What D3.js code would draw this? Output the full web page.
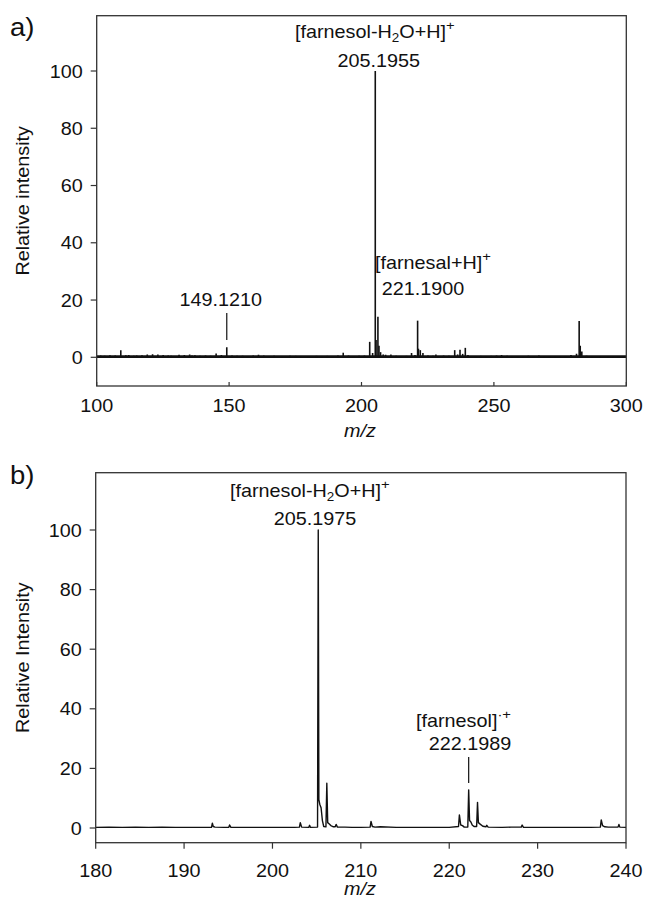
<!DOCTYPE html>
<html><head><meta charset="utf-8">
<script src="https://cdn.jsdelivr.net/npm/d3@7"></script>
<style>
body{margin:0;background:#fff}
svg{display:block}
text{font-family:"Liberation Sans",Arial,Helvetica,sans-serif;fill:#111}
</style>
</head><body>
<svg id="c" width="646" height="908"></svg>
<script>
// ---------- data ----------
const xTicksA = [100, 150, 200, 250, 300];
const xTicksB = [180, 190, 200, 210, 220, 230, 240];
const yTicks = [0, 20, 40, 60, 80, 100];

// panel a: centroid (stick) spectrum, m/z and relative intensity
const peaksAmz = [101.5,103,105,107,109.1,111,112.1,114,115.1,117.1,119.1,121.1,123.1,125.1,127,128.1,131.1,133.1,135.1,136,137.1,139,141.1,143,145.1,147.1,149.12,151.1,153,155.1,157,159.1,161.1,163.1,165,167,170,173,175.1,177,180,183,185,187.1,189,191.1,193.1,195.1,197,199.1,201.1,203.1,204.2,205.2,205.5,206.2,206.6,207.2,208.2,209.1,211.1,213.1,215,217,218.9,220.2,221.19,221.5,222.2,223.2,225.1,227,228.1,229,231,233,235.2,236.3,237.2,238.2,239.2,240.2,243,245,247,249,251,252.9,255,257,259,261,263,265,267,269,271,273,275,277,279.1,281.2,282.2,282.6,283.2,285,287,290,293,295,297,299];
const peaksAint = [0.6,0.5,0.7,0.6,2.5,0.7,0.8,0.5,0.6,0.7,1.0,1.1,1.0,0.8,0.6,0.5,0.9,0.8,1.0,0.6,0.7,0.5,0.6,0.5,1.3,0.8,3.5,0.6,0.5,0.5,0.4,0.6,0.9,0.6,0.4,0.5,0.4,0.5,0.5,0.4,0.4,0.5,0.4,0.5,0.4,0.6,1.6,0.6,0.4,0.5,0.6,5.4,1.5,100,6.0,14.2,4.0,1.8,1.0,0.9,1.0,0.5,0.4,0.5,1.5,0.8,12.8,3.0,2.5,1.5,0.6,0.5,1.0,0.4,0.6,0.5,2.5,1.0,2.6,1.2,3.3,0.8,0.4,0.5,0.4,0.5,0.6,0.8,0.5,0.4,0.4,0.4,0.5,0.4,0.6,0.4,0.4,0.4,0.4,0.4,0.8,1.2,12.7,4.0,2.0,0.5,0.4,0.4,0.3,0.3,0.3,0.4];

// panel b: profile spectrum, m/z and relative intensity
const profBmz = [180.0,181.5,183.0,184.5,186.0,187.5,189.0,190.5,192.0,193.1,193.2,193.3,193.5,194.5,195.05,195.15,195.3,197.0,199.0,201.0,202.5,203.05,203.15,203.3,204.1,204.2,204.3,205.1,205.18,205.25,205.35,205.5,205.65,205.8,206.05,206.15,206.25,206.4,206.6,206.9,207.1,207.2,207.35,208.2,209.0,210.0,211.05,211.15,211.3,211.6,212.2,214.0,216.0,218.0,220.0,221.05,221.15,221.3,221.5,221.7,222.1,222.2,222.3,222.45,222.6,222.8,223.1,223.2,223.3,223.5,223.8,224.15,224.25,224.4,226.0,227.0,228.15,228.25,228.4,230.0,232.0,234.0,236.0,237.1,237.2,237.35,237.6,238.0,239.1,239.2,239.3,240.0];
const profBint = [0.2,0.3,0.2,0.3,0.2,0.3,0.2,0.2,0.2,0.2,1.6,0.5,0.3,0.2,0.2,1.0,0.2,0.2,0.2,0.2,0.2,0.3,1.8,0.3,0.2,0.9,0.2,0.3,100,9.5,8.0,6.8,2.5,0.5,0.4,15,1.8,1.4,0.8,0.4,0.4,1.2,0.3,0.3,0.2,0.2,0.3,2.2,0.5,0.3,0.4,0.2,0.2,0.2,0.2,0.5,4.4,1.0,0.8,0.3,0.3,12.8,2.5,2.0,1.0,0.5,0.5,8.6,1.8,1.3,0.6,0.4,0.9,0.3,0.2,0.3,0.3,1.0,0.2,0.2,0.2,0.2,0.2,0.3,2.7,0.8,0.4,0.3,0.3,1.2,0.3,0.2];

// ---------- drawing ----------
const svg = d3.select("#c");
const SX = 1.1;
const INK = "#111";

function txt(x, y, parts, o = {}) {
  const size = o.size || 18;
  let tr = `translate(${x},${y})`;
  if (o.rotate) tr += ` rotate(${o.rotate})`;
  tr += ` scale(${SX},1)`;
  const g = svg.append("g").attr("transform", tr);
  const t = g.append("text").attr("text-anchor", o.anchor || "start")
    .style("font-size", size + "px");
  if (o.italic) t.style("font-style", "italic");
  if (typeof parts === "string") parts = [{ t: parts }];
  let shift = 0;
  parts.forEach(p => {
    const s = t.append("tspan").text(p.t);
    let target = 0;
    if (p.sub) { target = 4; s.style("font-size", (size * 0.68) + "px"); }
    if (p.sup) { target = -8; s.style("font-size", (size * 0.75) + "px"); }
    if (target !== shift) { s.attr("dy", target - shift); shift = target; }
  });
  return g;
}

function panel(cfg) {
  const x = d3.scaleLinear().domain(cfg.xd).range(cfg.xr);
  const y = d3.scaleLinear().domain([0, 100]).range(cfg.yr);
  const top = cfg.top, bot = cfg.bot;
  const [L, R] = cfg.xr;
  const clipId = "clip" + cfg.id;
  svg.append("clipPath").attr("id", clipId).append("rect")
    .attr("x", L).attr("y", top).attr("width", R - L).attr("height", bot - top);

  const gd = svg.append("g").attr("clip-path", `url(#${clipId})`);
  cfg.draw(gd, x, y);

  svg.append("rect").attr("x", L).attr("y", top).attr("width", R - L).attr("height", bot - top)
    .attr("fill", "none").attr("stroke", "#333").attr("stroke-width", 1.3);

  cfg.yt.forEach(v => {
    svg.append("line").attr("x1", L - 6).attr("x2", L).attr("y1", y(v)).attr("y2", y(v))
      .attr("stroke", "#333").attr("stroke-width", 1.2);
    txt(L - 14, y(v) + 6.6, String(v), { anchor: "end" });
  });
  cfg.xt.forEach(v => {
    svg.append("line").attr("x1", x(v)).attr("x2", x(v))
      .attr("y1", bot).attr("y2", bot + cfg.xtickLen)
      .attr("stroke", "#333").attr("stroke-width", 1.2);
    txt(x(v), cfg.xlabY, String(v), { anchor: "middle" });
  });
  txt(cfg.mzX, cfg.mzY, "m/z", { anchor: "middle", italic: true });
  txt(29, (top + bot) / 2, cfg.ylab, { anchor: "middle", rotate: -90 });
  txt(10, cfg.letterY, cfg.letter, { size: 25 });
  return { x, y };
}

// Panel a
const pa = panel({
  id: "a", xd: [100, 300], xr: [96.7, 626.3], yr: [357.3, 71], top: 15.7, bot: 386,
  xt: xTicksA, yt: yTicks, xtickLen: -4, xlabY: 412, mzX: 360, mzY: 437,
  ylab: "Relative intensity", letter: "a)", letterY: 36,
  draw(g, x, y) {
    g.append("line").attr("x1", x(100)).attr("x2", x(300))
      .attr("y1", y(0.25)).attr("y2", y(0.25))
      .attr("stroke", INK).attr("stroke-width", 2.8);
    g.selectAll("line.pk").data(peaksAmz).join("line").attr("class", "pk")
      .attr("x1", d => x(d)).attr("x2", d => x(d))
      .attr("y1", y(0)).attr("y2", (d, i) => y(peaksAint[i]))
      .attr("stroke", INK).attr("stroke-width", 1.6);
  }
});

txt(295, 38, [{ t: "[farnesol-H" }, { t: "2", sub: true }, { t: "O+H]" }, { t: "+", sup: true }]);
txt(378.8, 66.7, "205.1955", { anchor: "middle" });
txt(220.7, 305.7, "149.1210", { anchor: "middle" });
svg.append("line").attr("x1", pa.x(149.12)).attr("x2", pa.x(149.12))
  .attr("y1", 313).attr("y2", 340).attr("stroke", INK).attr("stroke-width", 1.2);
txt(375, 269, [{ t: "[farnesal+H]" }, { t: "+", sup: true }]);
txt(381.7, 295, "221.1900");

// Panel b
const pb = panel({
  id: "b", xd: [180, 240], xr: [95.7, 626], yr: [828, 530], top: 472.7, bot: 842.7,
  xt: xTicksB, yt: yTicks, xtickLen: 6, xlabY: 877, mzX: 360, mzY: 895,
  ylab: "Relative Intensity", letter: "b)", letterY: 484,
  draw(g, x, y) {
    const pts = profBmz.map((m, i) => [m, profBint[i]]);
    g.append("path").datum(pts)
      .attr("d", d3.line().x(d => x(d[0])).y(d => y(d[1])))
      .attr("fill", "none").attr("stroke", INK).attr("stroke-width", 1.4)
      .attr("stroke-linejoin", "round");
  }
});

txt(230, 496.7, [{ t: "[farnesol-H" }, { t: "2", sub: true }, { t: "O+H]" }, { t: "+", sup: true }]);
txt(315, 525, "205.1975", { anchor: "middle" });
txt(416, 727, [{ t: "[farnesol]" }, { t: "·+", sup: true }]);
txt(470, 750, "222.1989", { anchor: "middle" });
svg.append("line").attr("x1", pb.x(222.2)).attr("x2", pb.x(222.2))
  .attr("y1", 757).attr("y2", 783).attr("stroke", INK).attr("stroke-width", 1.2);
</script>
</body></html>
